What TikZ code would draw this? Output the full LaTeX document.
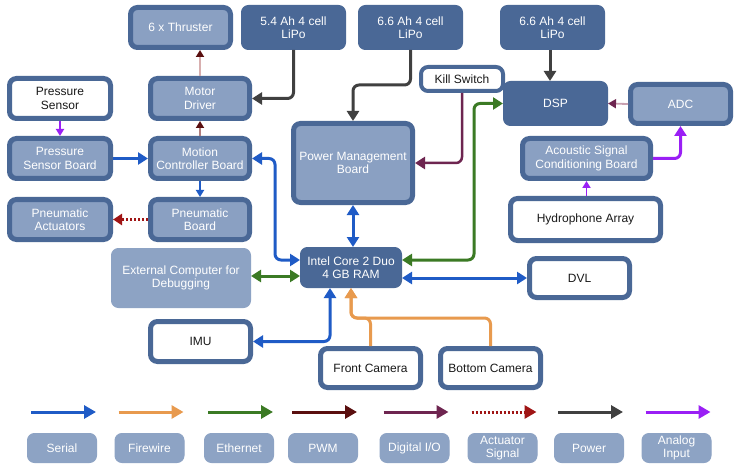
\documentclass[tikz,border=0pt]{standalone}
\usepackage{fontspec}
\setmainfont{Liberation Sans}
\usetikzlibrary{arrows.meta,calc}
\definecolor{dk}{HTML}{4A6896}
\definecolor{lt}{HTML}{8AA0C2}
\definecolor{extc}{HTML}{8DA3C4}
\definecolor{serialc}{HTML}{1F5BC6}
\definecolor{firec}{HTML}{E89A4E}
\definecolor{ethc}{HTML}{3B7A24}
\definecolor{pwmc}{HTML}{5A0F0F}
\definecolor{pwmfadec}{HTML}{D8AFAF}
\definecolor{digc}{HTML}{6E2550}
\definecolor{digfadec}{HTML}{C8A0B0}
\definecolor{actc}{HTML}{A01515}
\definecolor{powc}{HTML}{404040}
\definecolor{anac}{HTML}{9A1FF5}
\newcommand{\fs}{\fontsize{12}{13.5}\selectfont}
\tikzset{
 box/.style={rounded corners=7pt, align=center, font=\fs, inner sep=0pt},
 lbox/.style={box, draw=dk, line width=5pt, fill=lt, text=white},
 wbox/.style={box, draw=dk, line width=5pt, fill=white, text=black!90},
 dbox/.style={box, draw=dk, line width=1pt, fill=dk, text=white},
 ebox/.style={box, draw=extc, line width=1pt, fill=extc, text=white},
 legbox/.style={box, draw=extc, line width=1pt, fill=extc, text=white, minimum width=69pt, minimum height=29pt, font=\fontsize{12}{12.5}\selectfont},
 conn/.style={line width=3pt, rounded corners=6pt},
 thin/.style={line width=1.8pt, -{Triangle[length=7pt,width=8pt]}},
 serial/.style={conn, draw=serialc, color=serialc},
 fire/.style={conn, draw=firec, color=firec},
 eth/.style={conn, draw=ethc, color=ethc},
 pwm/.style={conn, draw=pwmc, color=pwmc},
 dig/.style={conn, draw=digc, color=digc},
 act/.style={conn, draw=actc, color=actc, dash pattern=on 2pt off 2pt, line width=2.5pt},
 pow/.style={conn, draw=powc, color=powc},
 ana/.style={conn, draw=anac, color=anac},
 legarrow/.style={line width=3pt, -{Triangle[length=12pt,width=13pt]}},
}
\begin{document}
\begin{tikzpicture}[x=1pt,y=-1pt,>={Triangle[length=10pt,width=12pt]}]
\useasboundingbox[fill=white] (0,0) rectangle (741,473);

% top row
\node[lbox, minimum width=100pt, minimum height=40pt] (thr) at (180.5,27.5) {6 x Thruster};
\node[dbox, minimum width=104pt, minimum height=44pt] (lipoA) at (293.5,27.5) {5.4 Ah 4 cell\\LiPo};
\node[dbox, minimum width=104pt, minimum height=44pt] (lipoB) at (410.5,27.5) {6.6 Ah 4 cell\\LiPo};
\node[dbox, minimum width=104pt, minimum height=44pt] (lipoC) at (552.5,27.5) {6.6 Ah 4 cell\\LiPo};

% right side
\node[wbox, line width=4pt, minimum width=82pt, minimum height=24pt] (kill) at (462,79) {Kill Switch};
\node[dbox, minimum width=104pt, minimum height=44pt] (dsp) at (555.5,103.5) {DSP};
\node[lbox, minimum width=100pt, minimum height=39pt] (adc) at (680.5,104) {ADC};
\node[lbox, minimum width=128pt, minimum height=40pt] (acou) at (586.5,158.5) {Acoustic Signal\\Conditioning Board};
\node[wbox, minimum width=150pt, minimum height=42pt] (hyd) at (585.5,219.5) {Hydrophone Array};

% left side
\node[wbox, minimum width=101pt, minimum height=40pt] (psens) at (60,98.5) {Pressure\\Sensor};
\node[lbox, minimum width=99pt, minimum height=40pt] (mdrv) at (200,98.5) {Motor\\Driver};
\node[lbox, minimum width=101pt, minimum height=40pt] (psb) at (60,158.5) {Pressure\\Sensor Board};
\node[lbox, minimum width=99pt, minimum height=40pt] (mcb) at (200,158.5) {Motion\\Controller Board};
\node[lbox, minimum width=101pt, minimum height=40pt] (pact) at (60,219.5) {Pneumatic\\Actuators};
\node[lbox, minimum width=99pt, minimum height=40pt] (pbrd) at (200,219.5) {Pneumatic\\Board};

% centre
\node[lbox, minimum width=119pt, minimum height=79pt] (pmb) at (353,163) {Power Management\\Board};
\node[dbox, minimum width=101pt, minimum height=40pt] (intel) at (351,267.5) {Intel Core 2 Duo\\4 GB RAM};
\node[ebox, minimum width=139pt, minimum height=59pt] (ext) at (181,278) {External Computer for\\Debugging};
\node[wbox, minimum width=100pt, minimum height=40pt] (imu) at (200.5,341.5) {IMU};
\node[wbox, minimum width=100pt, minimum height=39pt] (fcam) at (370.5,368) {Front Camera};
\node[wbox, minimum width=100pt, minimum height=39pt] (bcam) at (490.5,368) {Bottom Camera};
\node[wbox, minimum width=100pt, minimum height=39pt] (dvl) at (579.5,278) {DVL};

% connectors
\draw[line width=1.8pt, draw=pwmfadec, -{Triangle[length=7pt,width=8pt,color=pwmc]}] (mdrv.north) -- (mdrv.north |- thr.south);
\draw[line width=1.8pt, draw=pwmfadec!70!pwmc, -{Triangle[length=7pt,width=8pt,color=pwmc]}] (mcb.north) -- (mdrv.south);
\draw[pow,->] (lipoA.south) |- (mdrv.east);
\draw[pow,->] (lipoB.south) -- ++(0,35) -| (pmb.north);
\coordinate (c1) at ($(lipoC.south)+(-2.5,0)$);
\draw[pow,->] (c1) -- (c1 |- dsp.north);
\draw[dig,line width=2.5pt,->] (kill.south) |- (pmb.east);
\draw[line width=1.8pt, draw=digfadec, -{Triangle[length=8pt,width=9pt,color=digc]}] (adc.west) -- (dsp.east);
\draw[ana,->] (acou.east) -| (adc.south);
\draw[ana,thin] (hyd.north -| acou.south) -- (acou.south);
\draw[ana,thin] (psens.south) -- (psb.north);
\draw[serial,->] (psb.east) -- (mcb.west);
\draw[serial,thin] (mcb.south) -- (pbrd.north);
\draw[act,-{Triangle[length=9pt,width=11pt]}] (pbrd.west) -- (pact.east);

\coordinate (iw1) at ($(intel.west)+(0,-7.5)$);
\coordinate (iw2) at ($(intel.west)+(0,8.5)$);
\coordinate (ie1) at ($(intel.east)+(0,-7.5)$);
\coordinate (is1) at ($(intel.south)+(-21,0)$);
\draw[serial,<->] (mcb.east) -- ++(23,0) |- (iw1);
\draw[serial,<->] (pmb.south) -- (pmb.south |- intel.north);
\draw[eth,<->] (ie1) -| ($(dsp.west)+(-29,0)$) -- (dsp.west);
\draw[eth,<->] (ext.east |- iw2) -- (iw2);
\draw[serial,<->] (intel.east |- dvl.west) -- (dvl.west);
\draw[serial,<->] (imu.east) -| (is1);
\draw[fire,->] (fcam.north) -- ++(0,-28) -| (intel.south);
\draw[fire,->] (bcam.north) -- ++(0,-28) -| (intel.south);

% legend
\foreach \nm/\x/\sty/\txt in {lS/62/serial/Serial, lF/149.5/fire/Firewire, lE/239/eth/Ethernet, lP/323/pwm/PWM, lD/414.5/dig/{Digital I/O}, lA/502.5/act/{Actuator\\Signal}, lW/589/pow/Power, lN/676.5/ana/{Analog\\Input}}{
  \node[legbox] (\nm) at (\x,448) {\txt};
  \coordinate (\nm a) at ($(\nm.north)+(-31,-21)$);
  \coordinate (\nm b) at ($(\nm.north)+(34,-21)$);
  \draw[\sty,legarrow] (\nm a) -- (\nm b);
}
\end{tikzpicture}
\end{document}
